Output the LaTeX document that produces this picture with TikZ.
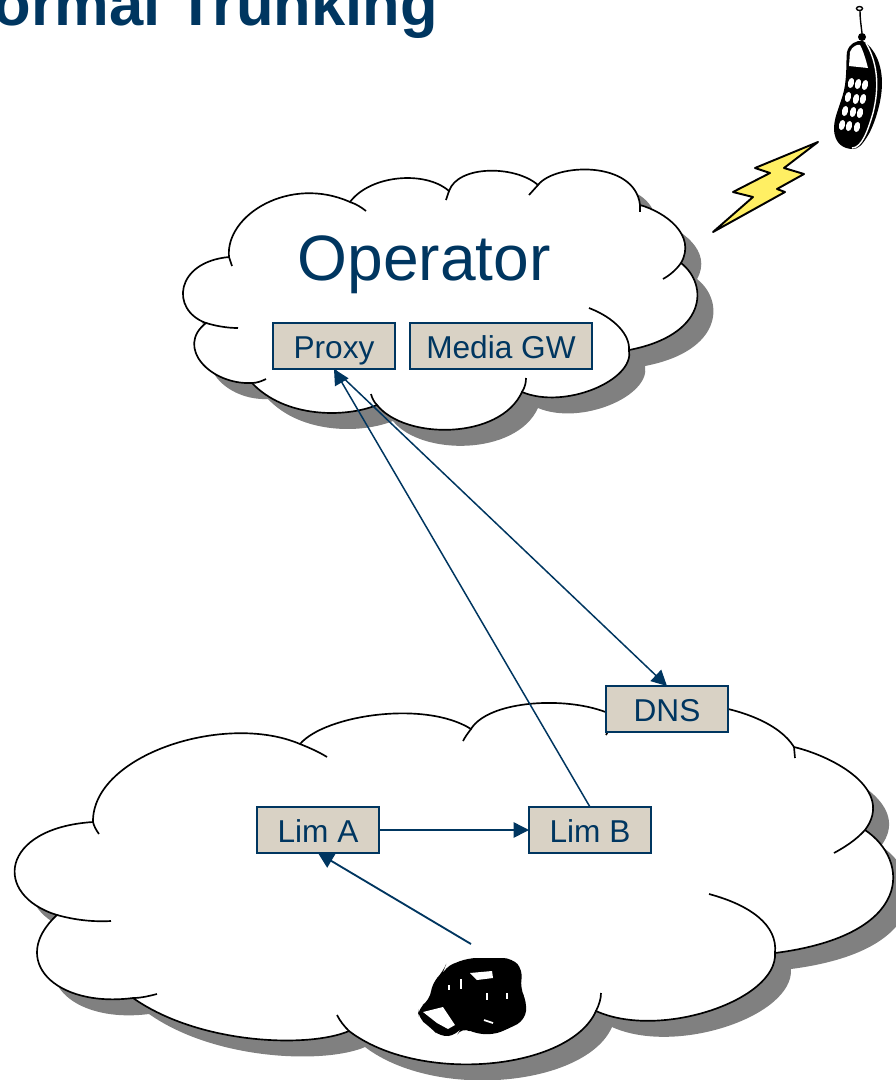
\documentclass[tikz,border=0pt]{standalone}
\usepackage{fontspec}
\setmainfont{Liberation Sans}
\usetikzlibrary{arrows.meta}

\definecolor{navy}{HTML}{003660}
\definecolor{boxfill}{HTML}{D9D2C5}
\definecolor{cloudshadow}{HTML}{808080}
\definecolor{bolt}{HTML}{FFEF63}

\tikzset{
  box/.style={draw=navy, line width=0.9pt, fill=boxfill, text=navy, inner sep=0pt, outer sep=0pt,
    minimum height=0.92cm, text height=0.48cm, text depth=0pt, font=\fontsize{18}{20}\selectfont},
  link/.style={draw=navy, line width=0.85pt, -{Triangle[length=8.8pt,width=8.8pt]}},
  cloudline/.style={draw=black, line width=0.95pt}
}

\newcommand{\operatorcloud}{(229,257) .. controls (225,215) and (290,175) .. (350,202)
  .. controls (370,175) and (425,170) .. (449,191)
  .. controls (458,165) and (515,165) .. (538,185)
  .. controls (555,163) and (635,160) .. (640,205)
  .. controls (665,212) and (697,235) .. (681,263)
  .. controls (709,285) and (707,335) .. (629,350)
  .. controls (635,380) and (565,410) .. (522,392)
  .. controls (500,440) and (405,440) .. (377,405)
  .. controls (345,418) and (285,418) .. (252,383)
  .. controls (210,385) and (175,347) .. (206,323)
  .. controls (170,310) and (175,262) .. (229,257) -- cycle}
\newcommand{\sitecloud}{(93,822) .. controls (92,755) and (225,712) .. (300,744)
  .. controls (325,715) and (425,700) .. (471,729)
  .. controls (490,698) and (580,695) .. (618,718)
  .. controls (640,690) and (765,700) .. (794,747)
  .. controls (835,757) and (895,790) .. (865,830)
  .. controls (910,860) and (915,935) .. (775,953)
  .. controls (778,1000) and (660,1040) .. (596,1011)
  .. controls (570,1070) and (420,1085) .. (349,1031)
  .. controls (310,1048) and (200,1045) .. (133,998)
  .. controls (55,1008) and (8,960) .. (57,915)
  .. controls (-8,895) and (0,828) .. (93,822) -- cycle}

\begin{document}
\begin{tikzpicture}[x=0.02cm, y=-0.02cm]
    \clip (0,0) rectangle (896,1080);
    \useasboundingbox (0,0) rectangle (896,1080);

    \node[anchor=base east, text=navy, font=\fontsize{35}{40}\selectfont\bfseries, inner sep=0pt] (Title) at (438,25) {ormal Trunking};

    % operator cloud
    \fill[cloudshadow, shift={(16,16)}] \operatorcloud;
    \filldraw[cloudline, fill=white] \operatorcloud;
    \draw[cloudline] (229,257) -- (232,266);
    \draw[cloudline] (350,202) .. controls (356,204) and (361,207) .. (366,211);
    \draw[cloudline] (449,191) -- (446,200);
    \draw[cloudline] (538,185) -- (529,195);
    \draw[cloudline] (640,205) -- (640,212);
    \draw[cloudline] (681,263) .. controls (676,270) and (670,275) .. (663,279);
    \draw[cloudline] (629,350) .. controls (630,335) and (615,318) .. (589,308);
    \draw[cloudline] (522,392) .. controls (525,387) and (526,383) .. (526,378);
    \draw[cloudline] (377,405) .. controls (374,402) and (372,398) .. (371,394);
    \draw[cloudline] (252,383) .. controls (257,383) and (262,381) .. (266,379);
    \draw[cloudline] (206,323) .. controls (216,326) and (227,328) .. (238,328);

    % site cloud
    \fill[cloudshadow, shift={(16,16)}] \sitecloud;
    \filldraw[cloudline, fill=white] \sitecloud;
    \draw[cloudline] (93,822) .. controls (94,826) and (96,830) .. (99,834);
    \draw[cloudline] (300,744) .. controls (310,748) and (319,752) .. (327,757);
    \draw[cloudline] (471,729) .. controls (468,733) and (465,737) .. (463,741);
    \draw[cloudline] (618,718) .. controls (613,723) and (609,729) .. (606,735);
    \draw[cloudline] (794,747) -- (795,758);
    \draw[cloudline] (865,830) .. controls (856,840) and (845,847) .. (834,853);
    \draw[cloudline] (775,953) .. controls (778,925) and (750,905) .. (709,894);
    \draw[cloudline] (596,1011) .. controls (599,1005) and (601,999) .. (601,993);
    \draw[cloudline] (349,1031) .. controls (344,1026) and (340,1021) .. (337,1015);
    \draw[cloudline] (133,998) .. controls (141,998) and (149,996) .. (157,994);
    \draw[cloudline] (57,915) .. controls (75,920) and (93,922) .. (111,921);

    % boxes
    \node[anchor=base, text=navy, font=\fontsize{36.5}{40}\selectfont, inner sep=0pt] (Operator) at (424,280) {Operator};
    \node[box, minimum width=2.44cm] (Proxy) at (334,346) {Proxy};
    \node[box, minimum width=3.64cm] (MediaGW) at (501,346) {Media GW};
    \node[box, minimum width=2.44cm] (DNS) at (667,709) {DNS};
    \node[box, minimum width=2.44cm] (LimA) at (318,830) {Lim A};
    \node[box, minimum width=2.44cm] (LimB) at (590,830) {Lim B};

    % desk phone
    \coordinate (Desk) at (471,944);
    \fill[black, rounded corners=5] (468,958) -- (512,958) -- (523,970) -- (520,988) -- (527,1002) -- (525,1020) -- (510,1028) -- (493,1035) -- (473,1033) -- (462,1027) -- (457,1035) -- (440,1037) -- (430,1027) -- (418,1018) -- (418,1008) -- (430,1000) -- (432,983) -- (443,972) -- (445,967) -- cycle;
    \fill[white] (423,1012) -- (443,1007) -- (455,1025) -- (448,1029) -- (437,1023) -- cycle;
    \fill[white] (470,973) -- (492,971) -- (493,978) -- (477,980) -- cycle;
    \draw[white, line width=0.8pt] (449,985) -- (449,990);
    \draw[white, line width=0.8pt] (461,979) -- (461,989);
    \draw[white, line width=1pt] (487,993) -- (487,1000);
    \draw[white, line width=0.8pt] (507,993) -- (507,999);
    \draw[white, line width=1pt] (484,1020) -- (493,1023);

    % links
    \draw[link] (LimA.east) -- (LimB.west);
    \draw[link] (LimB.north) -- (Proxy.south);
    \draw[link] (Proxy.south) -- (DNS.north);
    \draw[link, line width=1.05pt] (Desk) -- (LimA.south);

    % mobile phone
    \draw[black, line width=0.8pt] (862,33) .. controls (861,25) and (860,18) .. (860,11);
    \filldraw[draw=black, fill=white, line width=0.8pt] (859.5,8.5) ellipse [x radius=3, y radius=2];
    \fill[black] (862,37) circle (4);
    \fill[black] (863,41) .. controls (875,48) and (882,65) .. (882,83) .. controls (882,105) and (872,130) .. (867,137) .. controls (862,145) and (858,149) .. (853,149) .. controls (845,149) and (834,145) .. (834,128) .. controls (834,115) and (843,100) .. (845,85) .. controls (847,70) and (846,60) .. (847,52) .. controls (849,44) and (856,40) .. (863,41) -- cycle;
    \draw[white, line width=0.8pt] (866,43) .. controls (877,62) and (880,85) .. (873,113) .. controls (868,130) and (862,148) .. (852,148);
    \fill[white] (850,52) .. controls (852,46) and (858,44) .. (860,45) .. controls (863,50) and (866,60) .. (868,68) -- (849,66) -- cycle;
    \foreach \bx/\by in {851/83, 858/84, 865/85, 848/97, 856/99, 863/99, 845/111, 853/112, 860/113, 842/125, 849/126, 857/127}
      \fill[white] (\bx,\by) ellipse [x radius=3, y radius=5.2, rotate=-13];

    % lightning
    \filldraw[draw=black, fill=bolt, line width=1.1pt, line join=round] (818,142) -- (784,168) -- (804,174) -- (777,189) -- (785,192) -- (713,232) -- (753,197) -- (733,192) -- (770,173) -- (755,168) -- cycle;
\end{tikzpicture}
\end{document}
